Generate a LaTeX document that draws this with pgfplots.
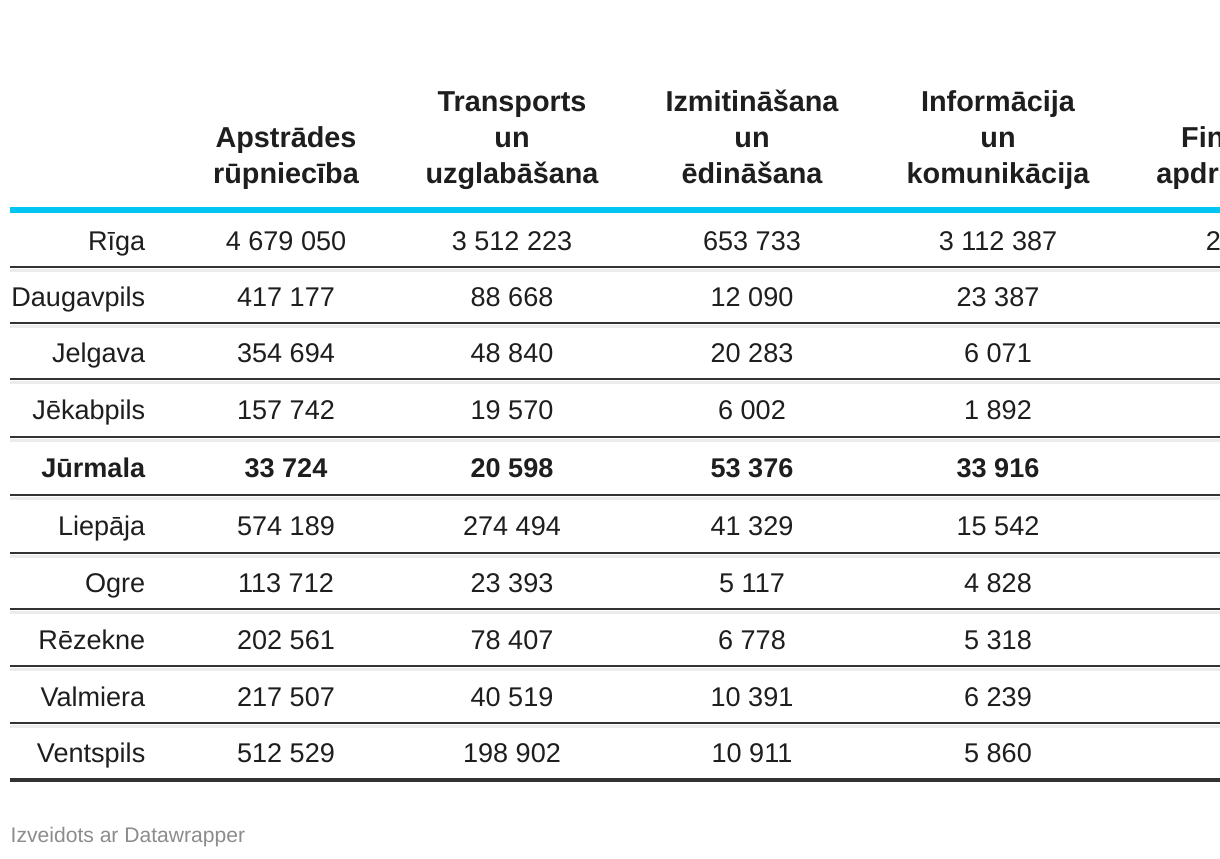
\documentclass[border=0pt]{standalone}
\usepackage{pgfplots}
\pgfplotsset{compat=1.18}
\usepackage{fontspec}
\setmainfont{Liberation Sans}

\definecolor{txt}{HTML}{1E1E1E}
\definecolor{rulecol}{HTML}{333333}
\definecolor{rulelight}{HTML}{ECECEC}
\definecolor{accent}{HTML}{00C4F2}
\definecolor{foot}{HTML}{8C8C8C}
\newcommand\cellfont{\fontsize{7.7}{9}\selectfont}
\newcommand\headfont{\fontsize{8.2}{9}\selectfont\bfseries}

% one column of the table = one plot, text carried as symbolic meta
\pgfplotsset{
  cellcol/.style={draw=none, mark=none, nodes near coords,
    point meta=explicit symbolic,
    nodes near coords align={anchor=base},
    every node near coord/.append style={font=\cellfont, text=txt, inner sep=0pt}},
  rowlab/.style={cellcol, nodes near coords align={anchor=base east}},
}

\begin{document}
\begin{tikzpicture}
\begin{axis}[
    width=12.2cm, height=8.58cm, scale only axis,
    xmin=0, xmax=1220, ymin=0, ymax=858, y dir=reverse,
    axis lines=none, clip=false,
  ]
  % rules
  \draw[accent, line width=1.7pt] (axis cs:10,210) -- (axis cs:1220,210);
  \pgfplotsinvokeforeach{267,323,379,437,495,553,609,666,723}{
    \draw[rulelight, line width=0.85pt] (axis cs:10,#1+3) -- (axis cs:1220,#1+3);
    \draw[rulecol, line width=0.8pt] (axis cs:10,#1) -- (axis cs:1220,#1);
  }
  \draw[rulecol, line width=1.2pt] (axis cs:10,780) -- (axis cs:1220,780);

  % headers
  \tikzset{hd/.style={anchor=base, inner sep=0pt, text=txt, font=\headfont}}
  \node[hd] at (axis cs:286,147) {Apstrādes};
  \node[hd] at (axis cs:286,183) {rūpniecība};
  \node[hd] at (axis cs:512,111) {Transports};
  \node[hd] at (axis cs:512,147) {un};
  \node[hd] at (axis cs:512,183) {uzglabāšana};
  \node[hd] at (axis cs:752,111) {Izmitināšana};
  \node[hd] at (axis cs:752,147) {un};
  \node[hd] at (axis cs:752,183) {ēdināšana};
  \node[hd] at (axis cs:998,111) {Informācija};
  \node[hd] at (axis cs:998,147) {un};
  \node[hd] at (axis cs:998,183) {komunikācija};
  \node[hd] at (axis cs:1258,147) {Finanšu un};
  \node[hd] at (axis cs:1258,183) {apdrošināšana};

  % row labels
  \addplot[rowlab] coordinates {
    (146,250) [Rīga] (146,306) [Daugavpils] (146,362) [Jelgava]
    (146,419) [Jēkabpils] (146,477) [\textbf{Jūrmala}] (146,535) [Liepāja]
    (146,592) [Ogre] (146,649) [Rēzekne] (146,706) [Valmiera]
    (146,762) [Ventspils] };
  % Apstrādes rūpniecība
  \addplot[cellcol] coordinates {
    (286,250) [4 679 050] (286,306) [417 177] (286,362) [354 694]
    (286,419) [157 742] (286,477) [\textbf{33 724}] (286,535) [574 189]
    (286,592) [113 712] (286,649) [202 561] (286,706) [217 507]
    (286,762) [512 529] };
  % Transports un uzglabāšana
  \addplot[cellcol] coordinates {
    (512,250) [3 512 223] (512,306) [88 668] (512,362) [48 840]
    (512,419) [19 570] (512,477) [\textbf{20 598}] (512,535) [274 494]
    (512,592) [23 393] (512,649) [78 407] (512,706) [40 519]
    (512,762) [198 902] };
  % Izmitināšana un ēdināšana
  \addplot[cellcol] coordinates {
    (752,250) [653 733] (752,306) [12 090] (752,362) [20 283]
    (752,419) [6 002] (752,477) [\textbf{53 376}] (752,535) [41 329]
    (752,592) [5 117] (752,649) [6 778] (752,706) [10 391]
    (752,762) [10 911] };
  % Informācija un komunikācija
  \addplot[cellcol] coordinates {
    (998,250) [3 112 387] (998,306) [23 387] (998,362) [6 071]
    (998,419) [1 892] (998,477) [\textbf{33 916}] (998,535) [15 542]
    (998,592) [4 828] (998,649) [5 318] (998,706) [6 239]
    (998,762) [5 860] };
  % Finanšu un apdrošināšana (cut off at the right edge)
  \addplot[cellcol] coordinates { (1266,250) [2 104 612] };

  \node[anchor=base west, inner sep=0pt, text=foot, font=\fontsize{6}{7}\selectfont]
    at (axis cs:10,842) {Izveidots ar Datawrapper};
\end{axis}
\pgfresetboundingbox
\path[use as bounding box] (current axis.south west) rectangle (current axis.north east);
\end{tikzpicture}
\end{document}
